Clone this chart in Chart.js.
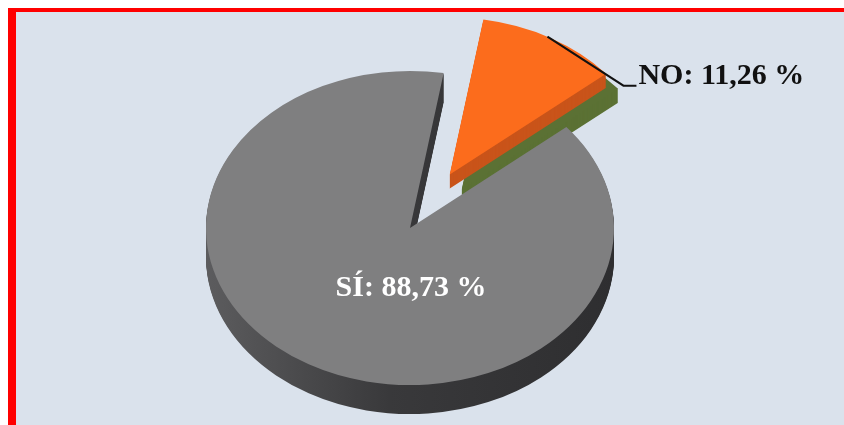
<!DOCTYPE html>
<html><head><meta charset="utf-8">
<style>
html,body{margin:0;padding:0;background:#fff;width:844px;height:425px;overflow:hidden;}
#frame{position:absolute;left:8px;top:8px;width:836px;height:417px;box-sizing:border-box;border-left:8px solid #ff0000;border-top:4px solid #ff0000;background:#dae2ec;}
#wrap{position:absolute;left:0;top:0;width:844px;height:425px;}
</style>
<script src="https://cdn.jsdelivr.net/npm/chart.js@4.4.1/dist/chart.umd.min.js"></script>
</head><body>
<div id="frame"></div>
<div id="wrap"><canvas id="c" width="844" height="425"></canvas></div>
<script>
const categories = ['NO', 'SÍ'];
const values = [11.26, 88.73];
const valueLabels = ['11,26 %', '88,73 %'];
const topColors = ['#fc6c1c', '#7f7f80'];

const pie3d = {
  id: 'pie3d',
  beforeDatasetsDraw(chart, args, opts) {
    const ctx = chart.ctx;
    const arcs = chart.getDatasetMeta(0).data;
    if (!arcs.length) return false;
    const cx = arcs[0].x, cy = arcs[0].y, R = arcs[0].outerRadius;
    const K = opts.tilt, D = opts.depth;
    const shift = arcs.map((a, i) => {
      const h = (a.startAngle + a.endAngle) / 2, e = opts.explode[i] || 0;
      return [Math.cos(h) * e, Math.sin(h) * e];
    });
    const paint = (a, i, dx, dy, fill) => {
      ctx.save();
      ctx.translate(dx, dy);
      ctx.translate(cx, cy); ctx.scale(1, K); ctx.translate(-cx, -cy);
      ctx.translate(shift[i][0], shift[i][1]);
      if (fill) {
        const saved = a.options;
        a.options = Object.assign({}, saved, {backgroundColor: fill, borderWidth: 0});
        a.draw(ctx);
        a.options = saved;
      } else a.draw(ctx);
      ctx.restore();
    };
    const grad = ctx.createLinearGradient(cx - R, 0, cx + R, 0);
    grad.addColorStop(0, '#5c5c5e');
    grad.addColorStop(0.45, '#39393b');
    grad.addColorStop(1, '#2e2e30');
    for (let i = 0; i < arcs.length; i++) {
      for (let d = D; d >= 1; d--) {
        let fill, dx = 0;
        if (i === 0) {
          if (d > D / 2) { fill = opts.sideAlt; dx = opts.altShift; } else fill = opts.sideNo;
        } else fill = grad;
        paint(arcs[i], i, dx, d, fill);
      }
    }
    arcs.forEach((a, i) => paint(a, i, 0, 0, null));

    // labels
    ctx.save();
    ctx.font = 'bold 30px "Liberation Serif", "Times New Roman", serif';
    ctx.textBaseline = 'alphabetic';
    ctx.fillStyle = '#ffffff';
    ctx.textAlign = 'center';
    ctx.fillText(categories[1] + ': ' + valueLabels[1], cx + 1, cy + R * K * 0.43);
    const a0 = arcs[0];
    const h = (a0.startAngle + a0.endAngle) / 2 - 0.02;
    const ax = cx + shift[0][0], ay = cy + shift[0][1] * K;
    const sx = ax + Math.cos(h) * R, sy = ay + Math.sin(h) * R * K;
    const ex = sx + 76, ey = sy + 49;
    ctx.strokeStyle = '#111';
    ctx.lineWidth = 2;
    ctx.beginPath();
    ctx.moveTo(sx, sy); ctx.lineTo(ex, ey); ctx.lineTo(ex + 13, ey);
    ctx.stroke();
    ctx.fillStyle = '#111';
    ctx.textAlign = 'left';
    ctx.fillText(categories[0] + ': ' + valueLabels[0], ex + 15, ey - 2);
    ctx.restore();
    return false;
  }
};

new Chart(document.getElementById('c'), {
  type: 'pie',
  data: {
    labels: categories,
    datasets: [{
      data: values,
      backgroundColor: topColors,
      borderWidth: 0
    }]
  },
  options: {
    responsive: false,
    animation: false,
    events: [],
    rotation: 9.5,
    radius: 204,
    layout: {padding: {left: 0, right: 24, top: 31, bottom: 0}},
    plugins: {
      legend: {display: false},
      tooltip: {enabled: false},
      pie3d: {tilt: 0.77, depth: 29, explode: [80, 0], sideNo: '#c9541a', sideAlt: '#5b7134', altShift: 12}
    }
  },
  plugins: [pie3d]
});
</script>
</body></html>
